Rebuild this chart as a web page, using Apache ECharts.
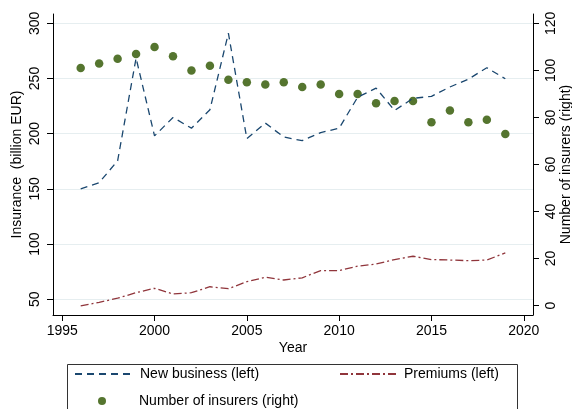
<!DOCTYPE html>
<html>
<head>
<meta charset="utf-8">
<script src="https://cdn.jsdelivr.net/npm/echarts@6/dist/echarts.min.js"></script>
<style>
  html, body { margin: 0; padding: 0; background: #fff; }
  #chart { width: 572px; height: 409px; }
</style>
</head>
<body>
<div id="chart"></div>
<script>
// data
var years = [1996, 1997, 1998, 1999, 2000, 2001, 2002, 2003, 2004, 2005, 2006, 2007,
             2008, 2009, 2010, 2011, 2012, 2013, 2014, 2015, 2016, 2017, 2018, 2019];
var newBusiness = [150, 155.7, 175.4, 268.5, 198, 214.7, 205, 221.7, 291, 195.5, 209.6, 197,
                   193.7, 201, 205, 233, 241.3, 221, 232, 233.8, 242.3, 249.4, 259.7, 249.7];
var premiums = [44, 47.3, 51, 56, 60, 54.8, 56, 61.4, 59.6, 66, 70, 67.5,
                69.5, 76, 76, 80, 82, 86, 89, 86, 85.6, 85, 85.6, 92];
var insurers = [101, 103, 105, 107, 110, 106, 100, 102, 96, 95, 94, 95,
                93, 94, 90, 90, 86, 87, 87, 78, 83, 78, 79, 73];
var xTicks = [1995, 2000, 2005, 2010, 2015, 2020];
var leftTicks = [50, 100, 150, 200, 250, 300];
var rightTicks = [0, 20, 40, 60, 80, 100, 120];

var font = 'Liberation Sans, Arial, sans-serif';

function pairs(vals) {
  return years.map(function (y, i) { return [y, vals[i]]; });
}

var chart = echarts.init(document.getElementById('chart'));

var option = {
  animation: false,
  backgroundColor: '#fff',
  textStyle: { fontFamily: font, color: '#000' },
  grid: { left: 53, right: 39, top: 14, bottom: 94, outerBoundsMode: 'none', containLabel: false },
  xAxis: {
    type: 'value', min: 1994.5, max: 2020.5,
    name: 'Year', nameLocation: 'middle', nameGap: 26, nameMoveOverlap: false,
    nameTextStyle: { fontSize: 14, color: '#000' },
    axisLine: { show: true, onZero: false, lineStyle: { color: '#000', width: 1 } },
    axisTick: { show: true, length: 6, customValues: xTicks, lineStyle: { color: '#000' } },
    axisLabel: { customValues: xTicks, fontSize: 14, color: '#000', margin: 9,
                 formatter: function (v) { return String(v); } },
    splitLine: { show: false }
  },
  yAxis: [{
    type: 'value', min: 35.8, max: 308.4, position: 'left',
    name: 'Insurance  (billion EUR)', nameLocation: 'middle', nameGap: 29, nameMoveOverlap: false,
    nameTextStyle: { fontSize: 14, color: '#000' },
    axisLine: { show: true, lineStyle: { color: '#000', width: 1 } },
    axisTick: { show: true, length: 6, customValues: leftTicks, lineStyle: { color: '#000' } },
    axisLabel: { customValues: leftTicks, rotate: 90, fontSize: 14, color: '#000', margin: 11 },
    splitLine: { show: true, lineStyle: { color: '#e6eef0', width: 1 } }
  }, {
    type: 'value', min: -4, max: 124, position: 'right',
    name: 'Number of insurers (right)', nameLocation: 'middle', nameGap: 26, nameMoveOverlap: false,
    nameTextStyle: { fontSize: 14, color: '#000' },
    axisLine: { show: true, lineStyle: { color: '#000', width: 1 } },
    axisTick: { show: true, length: 6, customValues: rightTicks, lineStyle: { color: '#000' } },
    axisLabel: { customValues: rightTicks, rotate: 90, fontSize: 14, color: '#000', margin: 11 },
    splitLine: { show: false }
  }],
  legend: [{
    data: ['New business (left)'],
    left: 74, top: 367, padding: 0, itemWidth: 56, itemHeight: 14,
    itemStyle: { opacity: 0 },
    textStyle: { fontSize: 14, color: '#000', padding: [0, 0, 0, 4] }
  }, {
    data: ['Premiums (left)'],
    left: 339, top: 367, padding: 0, itemWidth: 56, itemHeight: 14,
    itemStyle: { opacity: 0 },
    textStyle: { fontSize: 14, color: '#000', padding: [0, 0, 0, 3] }
  }, {
    data: [{ name: 'Number of insurers (right)', icon: 'circle' }],
    left: 98, top: 394, padding: 0, itemWidth: 8, itemHeight: 8,
    textStyle: { fontSize: 14, color: '#000', padding: [0, 0, 0, 28] }
  }],
  graphic: [{
    type: 'rect',
    shape: { x: 67.5, y: 364.5, width: 450, height: 60 },
    style: { fill: 'none', stroke: '#333', lineWidth: 1 },
    silent: true
  }],
  series: [{
    name: 'New business (left)', type: 'line', yAxisIndex: 0,
    data: pairs(newBusiness), symbol: 'none',
    itemStyle: { color: '#1a476f' },
    lineStyle: { color: '#1a476f', width: 1.3, type: [7, 5] }
  }, {
    name: 'Premiums (left)', type: 'line', yAxisIndex: 0,
    data: pairs(premiums), symbol: 'none',
    itemStyle: { color: '#90353b' },
    lineStyle: { color: '#90353b', width: 1.3, type: [8, 3, 2, 3] }
  }, {
    name: 'Number of insurers (right)', type: 'scatter', yAxisIndex: 1,
    data: pairs(insurers), symbol: 'circle', symbolSize: 8.5,
    itemStyle: { color: '#55752f', opacity: 1 }
  }]
};

chart.setOption(option);
</script>
</body>
</html>
